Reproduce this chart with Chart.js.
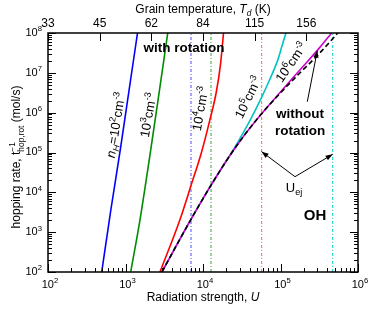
<!DOCTYPE html>
<html>
<head>
<meta charset="utf-8">
<script src="https://cdn.jsdelivr.net/npm/chart.js@4.4.1/dist/chart.umd.min.js"></script>
<style>
  html,body{margin:0;padding:0;background:#fff;}
  #wrap{width:373px;height:309px;position:relative;}
</style>
</head>
<body>
<div id="wrap"><canvas id="c"></canvas></div>
<script>
// hopping rate vs radiation strength U (OH, with / without rotation)
const FONT = '"Liberation Sans", Arial, Helvetica, sans-serif';

// curves: U and rate (mol/s)
const uBlue    = [493, 646, 861, 1109, 1429];
const rateBlue = [1e2, 3.55e3, 1.26e5, 3.55e6, 1e8];
const uGreen    = [1167, 1538, 2070, 2692, 3508];
const rateGreen = [1e2, 2.04e3, 8.71e4, 2.82e6, 1e8];
const uRed    = [2786, 5012, 7079, 9550, 12020, 14790, 16790, 18410];
const rateRed = [1e2, 1.995e3, 1.585e4, 1e5, 5.62e5, 3.16e6, 1.585e7, 1e8];
const uCyan    = [2951, 5012, 7943, 12590, 19950, 28180, 39810, 56230, 74130, 93330, 104700, 117500];
const rateCyan = [1e2, 656, 3214, 1.469e4, 6.12e4, 1.82e5, 6.03e5, 2.29e6, 7.41e6, 2.24e7, 4.79e7, 1e8];
const uMag    = [2951, 5012, 7943, 12590, 19950, 31620, 56230, 100000, 177800, 316200, 457100];
const rateMag = [1e2, 656, 3214, 1.469e4, 6.12e4, 2.223e5, 9.1e5, 3.31e6, 1.175e7, 4.17e7, 1e8];
const uNoRot    = [2951, 5012, 7943, 12590, 19950, 31620, 56230, 100000, 177800, 316200, 549500];
const rateNoRot = [1e2, 656, 3214, 1.469e4, 6.12e4, 2.223e5, 9.1e5, 3.14e6, 9.93e6, 3.05e7, 1e8];

// U_ej (vertical dotted lines), one per density
const uEj = [7000, 12700, 57000, 471000];
const ejColors = ['#6b6bff', '#55b055', '#ff7a7a', '#2ed0d0'];

// axis ticks
const xExps = [2, 3, 4, 5, 6];
const yExps = [2, 3, 4, 5, 6, 7, 8];
const tempLabels = ['33', '45', '62', '84', '115', '156'];
const tempTickU  = [100, 464, 2154, 10000, 46416, 215443];

function pts(us, rs){ return us.map((u,i)=>({x:u, y:rs[i]})); }

function logTicks(exps){
  const t = [];
  for(let k=0;k<exps.length-1;k++){
    for(let m=1;m<10;m++) t.push({value: m*Math.pow(10,exps[k]), major: m===1});
  }
  t.push({value: Math.pow(10,exps[exps.length-1]), major:true});
  return t;
}

function curve(label, data, color, dash){
  return {label, data, borderColor:color, borderWidth:1.6, pointRadius:0,
    borderDash: dash||[], cubicInterpolationMode:'monotone', fill:false};
}

// Chart.js paints dataset 0 last (on top), so the dashed curve goes first
const datasets = [];
datasets.push(curve('no rot', pts(uNoRot, rateNoRot), '#000000', [5,3]));
datasets.push(curve('1e6', pts(uMag, rateMag), '#cc00cc'));
datasets.push(curve('1e5', pts(uCyan, rateCyan), '#00c4c4'));
datasets.push(curve('1e4', pts(uRed, rateRed), '#ff0000'));
datasets.push(curve('1e3', pts(uGreen, rateGreen), '#008c00'));
datasets.push(curve('1e2', pts(uBlue, rateBlue), '#0000ff'));
uEj.forEach((u,i)=>{
  datasets.push({label:'Uej'+i, data:[{x:u,y:1e2},{x:u,y:1e8}], borderColor:ejColors[i],
    borderWidth:1.2, borderDash:[3,2,1,2], pointRadius:0, fill:false});
});

// rich text: parts = [text, kind]; kind '' normal, 'i' italic, 'b' bold, '^' sup, '_' sub, 'i_' italic sub
function partFont(kind, s){
  const small = (kind==='^'||kind==='_'||kind==='i_');
  const sz = small ? s*0.7 : s;
  const st = (kind==='i'||kind==='i_') ? 'italic ' : '';
  const wt = (kind==='b') ? 'bold ' : '';
  return st + wt + sz + 'px ' + FONT;
}
function partShift(kind, s){
  if(kind==='^') return -0.42*s;
  if(kind==='_'||kind==='i_') return 0.22*s;
  return 0;
}
function richWidth(ctx, parts, s){
  let w = 0;
  parts.forEach(p=>{
    if(p[1]==='^_'){
      ctx.font = partFont('^', s);
      const a = ctx.measureText(p[0][0]).width;
      const b = ctx.measureText(p[0][1]).width;
      w += Math.max(a,b);
    } else { ctx.font = partFont(p[1], s); w += ctx.measureText(p[0]).width; }
  });
  return w;
}
function rich(ctx, parts, x, y, align, s){
  const w = richWidth(ctx, parts, s);
  let cx = align==='center' ? x - w/2 : align==='right' ? x - w : x;
  const base = y + 0.36*s;
  ctx.textAlign = 'left';
  ctx.textBaseline = 'alphabetic';
  parts.forEach(p=>{
    if(p[1]==='^_'){
      ctx.font = partFont('^', s);
      const a = ctx.measureText(p[0][0]).width;
      const b = ctx.measureText(p[0][1]).width;
      ctx.fillText(p[0][0], cx, base - 0.42*s);
      ctx.fillText(p[0][1], cx, base + 0.28*s);
      cx += Math.max(a,b);
    } else {
      ctx.font = partFont(p[1], s);
      ctx.fillText(p[0], cx, base + partShift(p[1], s));
      cx += ctx.measureText(p[0]).width;
    }
  });
}

// annotations placed in data coordinates
const notes = [
  {parts:[['with rotation','b']], u:5690, r:4.45e7, s:13.5, rot:0},
  {parts:[['n','i'],['H','i_'],['=10',''],['2','^'],['cm',''],['-3','^']], u:740, r:4.9e5, s:13, rot:-81},
  {parts:[['10',''],['3','^'],['cm',''],['-3','^']], u:1950, r:8.7e5, s:13, rot:-80},
  {parts:[['10',''],['4','^'],['cm',''],['-3','^']], u:9140, r:1.26e6, s:13, rot:-80},
  {parts:[['10',''],['5','^'],['cm',''],['-3','^']], u:38000, r:2.45e6, s:13, rot:-64},
  {parts:[['10',''],['6','^'],['cm',''],['-3','^']], u:136400, r:1.86e7, s:13, rot:-55},
  {parts:[['without','b']], u:178600, r:9.8e5, s:13.5, rot:0},
  {parts:[['rotation','b']], u:178600, r:3.67e5, s:13.5, rot:0},
  {parts:[['U',''],['ej','_']], u:149300, r:1.36e4, s:13, rot:0},
  {parts:[['OH','b']], u:278600, r:2690, s:15, rot:0}
];
const arrows = [
  {u1:221800, r1:1.88e6, u2:298500, r2:3.6e7},
  {u1:153800, r1:2.47e4, u2:57000,  r2:1.05e5},
  {u1:153800, r1:2.47e4, u2:471000, r2:9.0e4}
];

function arrow(ctx, x1, y1, x2, y2){
  ctx.beginPath(); ctx.moveTo(x1,y1); ctx.lineTo(x2,y2); ctx.stroke();
  const a = Math.atan2(y2-y1, x2-x1), L = 7, H = 2.6;
  ctx.beginPath();
  ctx.moveTo(x2, y2);
  ctx.lineTo(x2 - L*Math.cos(a) + H*Math.sin(a), y2 - L*Math.sin(a) - H*Math.cos(a));
  ctx.lineTo(x2 - L*Math.cos(a) - H*Math.sin(a), y2 - L*Math.sin(a) + H*Math.cos(a));
  ctx.closePath(); ctx.fill();
}

const decor = {
  id:'decor',
  afterDatasetsDraw(chart){
    const ctx = chart.ctx, xs = chart.scales.x, ys = chart.scales.y;
    ctx.save();
    ctx.fillStyle = '#000'; ctx.strokeStyle = '#000'; ctx.lineWidth = 1;
    notes.forEach(n=>{
      ctx.save();
      ctx.translate(xs.getPixelForValue(n.u), ys.getPixelForValue(n.r));
      ctx.rotate(n.rot*Math.PI/180);
      rich(ctx, n.parts, 0, 0, 'center', n.s);
      ctx.restore();
    });
    arrows.forEach(a=>arrow(ctx, xs.getPixelForValue(a.u1), ys.getPixelForValue(a.r1),
                                 xs.getPixelForValue(a.u2), ys.getPixelForValue(a.r2)));
    ctx.restore();
  },
  afterDraw(chart){
    const ctx = chart.ctx, xs = chart.scales.x, ys = chart.scales.y, ca = chart.chartArea;
    ctx.save();
    ctx.strokeStyle = '#000'; ctx.fillStyle = '#000';
    ctx.lineWidth = 1;
    // inward ticks
    ctx.beginPath();
    xs.ticks.forEach(t=>{
      const px = Math.round(xs.getPixelForValue(t.value)) + 0.5, len = t.major ? 8 : 4;
      ctx.moveTo(px, ca.bottom); ctx.lineTo(px, ca.bottom - len);
    });
    ys.ticks.forEach(t=>{
      const py = Math.round(ys.getPixelForValue(t.value)) + 0.5, len = t.major ? 8 : 4;
      ctx.moveTo(ca.left, py); ctx.lineTo(ca.left + len, py);
      ctx.moveTo(ca.right, py); ctx.lineTo(ca.right - len, py);
    });
    tempTickU.forEach(u=>{
      const px = Math.round(xs.getPixelForValue(u)) + 0.5;
      ctx.moveTo(px, ca.top); ctx.lineTo(px, ca.top + 8);
    });
    ctx.stroke();
    // frame
    ctx.lineWidth = 1.5;
    ctx.strokeRect(ca.left, ca.top, ca.right - ca.left, ca.bottom - ca.top);
    // tick labels
    yExps.forEach(e=>{
      rich(ctx, [['10',''],[String(e),'^']], ca.left - 6, ys.getPixelForValue(Math.pow(10,e)) - 1, 'right', 11);
    });
    xExps.forEach(e=>{
      rich(ctx, [['10',''],[String(e),'^']], xs.getPixelForValue(Math.pow(10,e)) + 2, ca.bottom + 12, 'center', 11);
    });
    tempLabels.forEach((lab,i)=>{
      rich(ctx, [[lab,'']], xs.getPixelForValue(tempTickU[i]), ca.top - 10, 'center', 12);
    });
    // axis titles
    rich(ctx, [['Radiation strength, ',''],['U','i']], (ca.left+ca.right)/2, 297, 'center', 12);
    rich(ctx, [['Grain temperature, ',''],['T','i'],['d','i_'],[' (K)','']], (ca.left+ca.right)/2, 9, 'center', 12);
    ctx.save();
    ctx.translate(16, 157);
    ctx.rotate(-Math.PI/2);
    rich(ctx, [['hopping rate, t',''],[['\u22121','hop,rot'],'^_'],[' (mol/s)','']], 0, 0, 'center', 12);
    ctx.restore();
    ctx.restore();
  }
};

new Chart(document.getElementById('c'), {
  type:'line',
  data:{datasets},
  options:{
    responsive:true, maintainAspectRatio:false, animation:false,
    layout:{padding:{left:48, right:15, top:33, bottom:37}},
    plugins:{legend:{display:false}, tooltip:{enabled:false}},
    scales:{
      x:{type:'logarithmic', min:1e2, max:1e6,
         afterBuildTicks: s=>{ s.ticks = logTicks(xExps); },
         ticks:{display:false}, grid:{display:false, drawTicks:false}, border:{display:false}},
      y:{type:'logarithmic', min:1e2, max:1e8,
         afterBuildTicks: s=>{ s.ticks = logTicks(yExps); },
         ticks:{display:false}, grid:{display:false, drawTicks:false}, border:{display:false}}
    }
  },
  plugins:[decor]
});
</script>
</body>
</html>
